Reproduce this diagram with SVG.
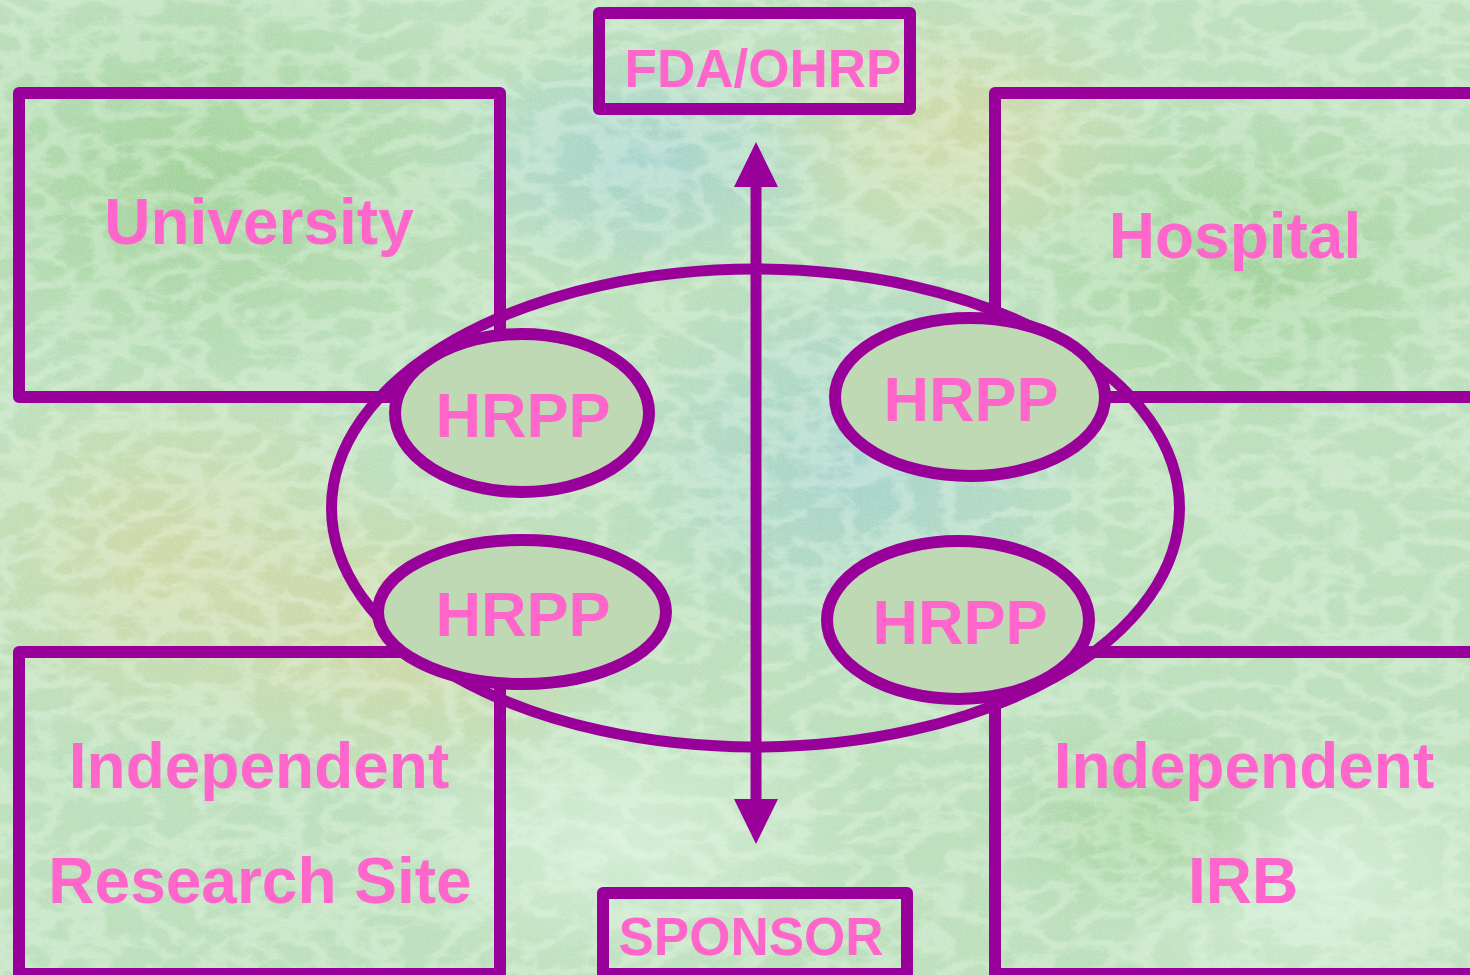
<svg xmlns="http://www.w3.org/2000/svg" width="1470" height="975" viewBox="0 0 1470 975">
<style>
.box{fill:none;stroke:#990099;stroke-width:12;stroke-linejoin:round}
.ring{fill:none;stroke:#990099;stroke-width:11}
.hrpp{fill:#c0d9b5;stroke:#990099;stroke-width:12}
.lbl{font-family:"Liberation Sans",Arial,sans-serif;font-weight:bold;fill:#ff66cc;text-anchor:middle}
.conn{stroke:#990099;stroke-width:11;fill:none}
</style>
<defs>
<radialGradient id="g1"><stop offset="0" stop-color="#9ccf94" stop-opacity="0.8"/><stop offset="1" stop-color="#9ccf94" stop-opacity="0"/></radialGradient>
<radialGradient id="g2"><stop offset="0" stop-color="#9fcfd2" stop-opacity="0.8"/><stop offset="1" stop-color="#9fcfd2" stop-opacity="0"/></radialGradient>
<radialGradient id="g3"><stop offset="0" stop-color="#d6d6a0" stop-opacity="0.75"/><stop offset="1" stop-color="#d6d6a0" stop-opacity="0"/></radialGradient>
<radialGradient id="g4"><stop offset="0" stop-color="#d8f0dc" stop-opacity="0.8"/><stop offset="1" stop-color="#d8f0dc" stop-opacity="0"/></radialGradient>
<filter id="tex" x="0" y="0" width="100%" height="100%">
<feTurbulence type="turbulence" baseFrequency="0.02 0.035" numOctaves="3" seed="7" result="n"/>
<feColorMatrix in="n" type="matrix" values="0 0 0 0 0.88  0 0 0 0 1  0 0 0 0 0.88  0 0 0 -4 1.6"/>
</filter>
<filter id="grain" x="0" y="0" width="100%" height="100%">
<feTurbulence type="fractalNoise" baseFrequency="0.9" numOctaves="1" seed="2" result="n"/>
<feColorMatrix in="n" type="matrix" values="0 0 0 0 1  0 0 0 0 1  0 0 0 0 0.9  0 0 0 -2.5 1.3"/>
</filter>
<marker id="ah" viewBox="0 0 45 44" refX="0" refY="22" markerWidth="45" markerHeight="44" markerUnits="userSpaceOnUse" orient="auto-start-reverse"><path d="M0,0 L45,22 L0,44 z" fill="#990099"/></marker>
</defs>
<g id="background">
<rect width="1470" height="975" fill="#bcdfbc"/>
<ellipse cx="200" cy="180" rx="320" ry="220" fill="url(#g1)"/>
<ellipse cx="640" cy="160" rx="220" ry="130" fill="url(#g2)"/>
<ellipse cx="960" cy="130" rx="200" ry="140" fill="url(#g3)"/>
<ellipse cx="170" cy="560" rx="240" ry="200" fill="url(#g3)"/>
<ellipse cx="860" cy="460" rx="260" ry="220" fill="url(#g2)"/>
<ellipse cx="1250" cy="260" rx="260" ry="180" fill="url(#g1)"/>
<ellipse cx="1320" cy="880" rx="260" ry="160" fill="url(#g4)"/>
<ellipse cx="620" cy="840" rx="260" ry="150" fill="url(#g4)"/>
<ellipse cx="400" cy="640" rx="220" ry="160" fill="url(#g3)"/>
<ellipse cx="1150" cy="820" rx="160" ry="120" fill="url(#g1)"/>
<rect width="1470" height="975" filter="url(#tex)" opacity="0.3"/>
<rect width="1470" height="975" filter="url(#grain)" opacity="0.3"/>
</g>
<g id="university"><rect class="box" x="19" y="93" width="481" height="304"/><text class="lbl" x="259" y="244" font-size="64">University</text></g>
<g id="hospital"><rect class="box" x="995" y="93" width="600" height="304"/><text class="lbl" x="1235" y="258" font-size="64">Hospital</text></g>
<g id="research-site"><rect class="box" x="19" y="652" width="481" height="322"/><text class="lbl" x="259" y="788" font-size="64">Independent</text><text class="lbl" x="260" y="903" font-size="64">Research Site</text></g>
<g id="irb"><rect class="box" x="995" y="652" width="600" height="322"/><text class="lbl" x="1244" y="788" font-size="64">Independent</text><text class="lbl" x="1243" y="903" font-size="64">IRB</text></g>
<g id="fda"><rect class="box" x="599" y="13" width="311" height="96"/><text class="lbl" x="763" y="87" font-size="53">FDA/OHRP</text></g>
<g id="sponsor"><rect class="box" x="603" y="893" width="304" height="81"/><text class="lbl" x="751" y="955" font-size="53">SPONSOR</text></g>
<g id="ring"><ellipse class="ring" cx="755.5" cy="508" rx="424" ry="239"/></g>
<g id="connectors"><path class="conn" d="M756,187 L756,799" marker-start="url(#ah)" marker-end="url(#ah)"/></g>
<g id="hrpp-tl"><ellipse class="hrpp" cx="522" cy="413" rx="127" ry="79"/><text class="lbl" x="523" y="437" font-size="63">HRPP</text></g>
<g id="hrpp-bl"><ellipse class="hrpp" cx="522" cy="612" rx="144" ry="72"/><text class="lbl" x="523" y="636" font-size="63">HRPP</text></g>
<g id="hrpp-tr"><ellipse class="hrpp" cx="970" cy="397" rx="135" ry="79"/><text class="lbl" x="971" y="421" font-size="63">HRPP</text></g>
<g id="hrpp-br"><ellipse class="hrpp" cx="958" cy="620" rx="131" ry="79"/><text class="lbl" x="960" y="644" font-size="63">HRPP</text></g>
</svg>
